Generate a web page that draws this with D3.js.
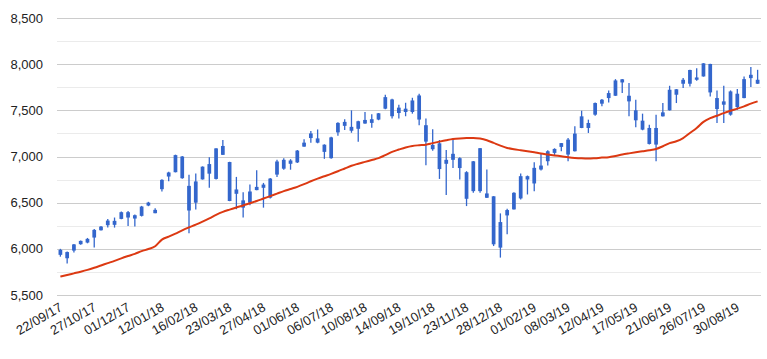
<!DOCTYPE html>
<html>
<head>
<meta charset="utf-8">
<script src="https://cdn.jsdelivr.net/npm/d3@7/dist/d3.min.js"></script>
<style>
  html, body { margin: 0; padding: 0; background: #fff; }
  svg { display: block; }
  text { font-family: "Liberation Sans", Arial, sans-serif; font-size: 13px; fill: #222; }
</style>
</head>
<body>
<svg id="chart" width="767" height="359"></svg>
<script>
const dates = ["22/09/17","29/09/17","06/10/17","13/10/17","20/10/17","27/10/17","03/11/17","10/11/17","17/11/17","24/11/17",
"01/12/17","08/12/17","15/12/17","22/12/17","05/01/18","12/01/18","19/01/18","26/01/18","02/02/18","09/02/18",
"16/02/18","23/02/18","02/03/18","09/03/18","16/03/18","23/03/18","30/03/18","06/04/18","13/04/18","20/04/18",
"27/04/18","04/05/18","11/05/18","18/05/18","25/05/18","01/06/18","08/06/18","15/06/18","22/06/18","29/06/18",
"06/07/18","13/07/18","20/07/18","27/07/18","03/08/18","10/08/18","17/08/18","24/08/18","31/08/18","07/09/18",
"14/09/18","21/09/18","28/09/18","05/10/18","12/10/18","19/10/18","26/10/18","02/11/18","09/11/18","16/11/18",
"23/11/18","30/11/18","07/12/18","14/12/18","21/12/18","28/12/18","04/01/19","11/01/19","18/01/19","25/01/19",
"01/02/19","08/02/19","15/02/19","22/02/19","01/03/19","08/03/19","15/03/19","22/03/19","29/03/19","05/04/19",
"12/04/19","19/04/19","26/04/19","03/05/19","10/05/19","17/05/19","24/05/19","31/05/19","07/06/19","14/06/19",
"21/06/19","28/06/19","05/07/19","12/07/19","19/07/19","26/07/19","02/08/19","09/08/19","16/08/19","23/08/19",
"30/08/19","06/09/19","13/09/19","20/09/19"];

const high = [6000,5970,6053,6090,6118,6216,6248,6324,6339,6404,6411,6371,6465,6509,6440,6754,6834,7020,7005,6801,
6815,6893,6993,7090,7179,6943,6779,6614,6696,6850,6714,6768,6964,6982,6971,7071,7186,7275,7293,7132,
7214,7371,7404,7500,7386,7482,7457,7471,7668,7625,7561,7582,7636,7679,7411,7296,7179,7071,7196,6993,
6841,6950,7093,6859,6571,6384,6434,6614,6816,6794,6938,7032,7068,7089,7147,7201,7327,7496,7399,7586,
7622,7716,7838,7838,7795,7615,7464,7345,7453,7579,7766,7730,7849,7939,7957,8011,8004,7716,7766,7716,
7730,7867,7968,7939];

const low = [5915,5840,5960,6045,6060,6014,6198,6230,6230,6320,6248,6241,6350,6462,6386,6621,6733,6828,6760,6169,
6425,6750,6661,6750,7016,6516,6429,6339,6471,6634,6446,6546,6779,6857,6857,6929,7105,7150,7143,6975,
6975,7225,7286,7257,7161,7355,7311,7393,7511,7411,7411,7436,7464,7339,6904,7061,6757,6582,6875,6750,
6463,6607,6607,6551,6030,5905,6157,6425,6535,6589,6625,6848,6902,7010,7057,6949,7055,7307,7255,7442,
7543,7586,7656,7687,7435,7316,7284,7129,6949,7433,7498,7579,7741,7759,7820,7865,7651,7363,7363,7442,
7507,7631,7752,7786];

const open = [5990,5965,5981,6050,6068,6122,6201,6256,6303,6324,6339,6364,6357,6469,6422,6646,6783,6830,7000,6682,
6500,6752,6814,6757,7018,6940,6643,6525,6500,6636,6661,6761,6804,6868,6921,6936,7107,7200,7196,7128,
6982,7261,7332,7321,7300,7357,7364,7400,7518,7618,7529,7482,7482,7661,7339,7125,7143,6964,6964,6982,
6830,6625,6625,6600,6569,6290,6362,6427,6546,6751,6708,6859,6949,7039,7104,7183,7057,7309,7363,7453,
7572,7633,7658,7802,7658,7500,7388,7309,7129,7435,7500,7669,7788,7788,7856,7867,8002,7633,7561,7705,
7536,7633,7849,7831];

const close = [5935,5898,6048,6086,6108,6205,6241,6306,6260,6397,6397,6328,6458,6501,6386,6747,6827,7015,6765,6415,
6730,6890,6918,7088,7114,6518,6596,6446,6621,6671,6696,6554,6946,6964,6957,7064,7150,7250,7150,7050,
7207,7364,7375,7279,7382,7396,7404,7468,7643,7436,7471,7518,7607,7400,7161,7079,6864,6921,7029,6875,
6542,6948,7090,6553,6049,6013,6420,6607,6787,6787,6877,6902,7057,7082,7145,7021,7248,7435,7309,7579,
7615,7687,7824,7836,7597,7392,7291,7136,7309,7478,7723,7728,7831,7937,7831,8009,7694,7514,7597,7453,
7680,7838,7885,7788];

const movingAvg = [5699,5716,5734,5752,5772,5795,5820,5845,5870,5897,5922,5946,5975,5998,6028,6100,6132,6165,6200,6232,
6262,6295,6330,6368,6400,6425,6448,6470,6494,6518,6545,6571,6598,6625,6648,6671,6700,6732,6760,6786,
6812,6840,6870,6900,6922,6942,6962,6982,7015,7050,7075,7098,7114,7122,7128,7145,7161,7176,7189,7196,
7200,7201,7194,7176,7147,7118,7093,7078,7068,7057,7045,7032,7022,7012,7003,6993,6985,6980,6978,6982,
6988,6992,7005,7021,7034,7046,7057,7068,7082,7111,7145,7165,7200,7255,7309,7375,7415,7442,7470,7495,
7518,7543,7572,7597];

const yTicks = [5500,6000,6500,7000,7500,8000,8500];
const yMinor = [5750,6250,6750,7250,7750,8250];
const xTickLabels = ["22/09/17","27/10/17","01/12/17","12/01/18","16/02/18","23/03/18","27/04/18","01/06/18",
"06/07/18","10/08/18","14/09/18","19/10/18","23/11/18","28/12/18","01/02/19","08/03/19","12/04/19",
"17/05/19","21/06/19","26/07/19","30/08/19"];

const svg = d3.select("#chart");
const plotLeft = 57, plotRight = 761, plotTop = 18, plotBottom = 295;

const x = d3.scaleBand().domain(dates).range([plotLeft, plotRight]).padding(0);
const y = d3.scaleLinear().domain([5500, 8500]).range([plotBottom, plotTop]);
const cx = d => x(d) + x.bandwidth() / 2;

// minor gridlines
svg.append("g").selectAll("line").data(yMinor).join("line")
  .attr("x1", plotLeft).attr("x2", plotRight)
  .attr("y1", d => Math.round(y(d)) + 0.5).attr("y2", d => Math.round(y(d)) + 0.5)
  .attr("stroke", "#ebebeb").attr("stroke-width", 1);
// major gridlines
svg.append("g").selectAll("line").data(yTicks).join("line")
  .attr("x1", plotLeft).attr("x2", plotRight)
  .attr("y1", d => Math.round(y(d)) + 0.5).attr("y2", d => Math.round(y(d)) + 0.5)
  .attr("stroke", "#cccccc").attr("stroke-width", 1);

// y labels
const fmt = d3.format(",");
svg.append("g").selectAll("text").data(yTicks).join("text")
  .attr("x", 43).attr("y", d => y(d)).attr("dy", "0.35em")
  .attr("text-anchor", "end").text(d => fmt(d));

// x labels
svg.append("g").selectAll("text").data(xTickLabels).join("text")
  .attr("text-anchor", "end")
  .attr("transform", d => `translate(${cx(d) + 3},${310}) rotate(-30)`)
  .text(d => d);

// candles
const idx = d3.range(dates.length);
const blue = "#3366cc";
const bodyW = x.bandwidth() * 0.55;
const g = svg.append("g");
g.selectAll("line.wick").data(idx).join("line").attr("class", "wick")
  .attr("x1", i => cx(dates[i])).attr("x2", i => cx(dates[i]))
  .attr("y1", i => y(high[i])).attr("y2", i => y(low[i]))
  .attr("stroke", blue).attr("stroke-width", 1.3);
g.selectAll("rect.body").data(idx).join("rect").attr("class", "body")
  .attr("x", i => cx(dates[i]) - bodyW / 2).attr("width", bodyW)
  .attr("y", i => y(Math.max(open[i], close[i])))
  .attr("height", i => Math.max(1, y(Math.min(open[i], close[i])) - y(Math.max(open[i], close[i]))))
  .attr("fill", blue);

// moving average line
const line = d3.line().x((d, i) => cx(dates[i])).y(d => y(d)).curve(d3.curveMonotoneX);
svg.append("path").datum(movingAvg).attr("d", line)
  .attr("fill", "none").attr("stroke", "#dc3912").attr("stroke-width", 2);
</script>
</body>
</html>
